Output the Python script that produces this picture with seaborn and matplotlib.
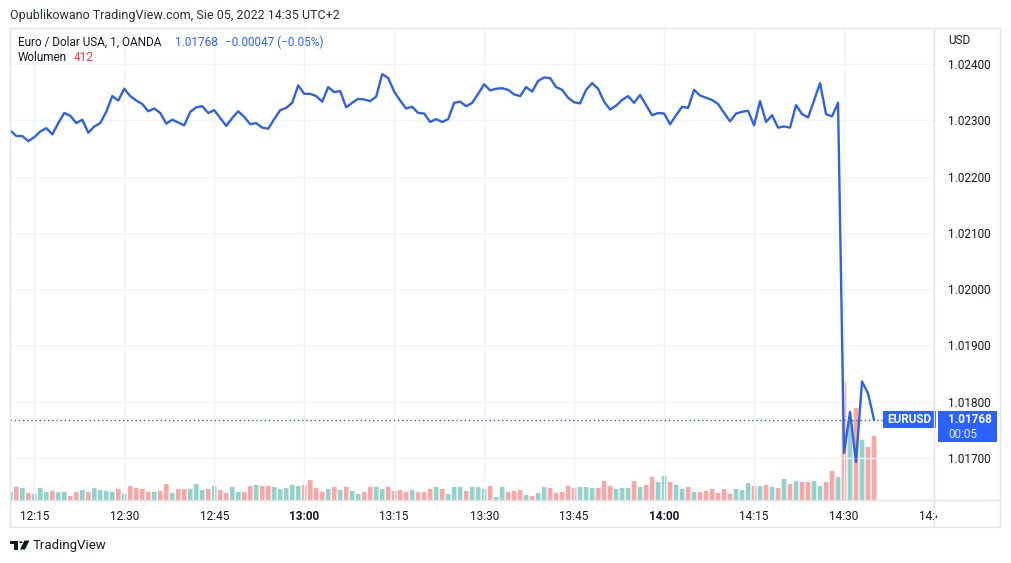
import matplotlib
matplotlib.use("Agg")
import matplotlib.pyplot as plt
import matplotlib.transforms as mtrans
from matplotlib.patches import Rectangle, Polygon, Circle
from matplotlib.lines import Line2D
import seaborn as sns
import pandas as pd

# ---------------- data ----------------
# one value per minute, starting 12:11 and ending 14:35
price = [
    1.02282, 1.02272, 1.02272, 1.02263, 1.02270, 1.02280, 1.02286, 1.02275, 1.02295, 1.02313,
    1.02308, 1.02295, 1.02301, 1.02278, 1.02289, 1.02295, 1.02315, 1.02343, 1.02335, 1.02356,
    1.02343, 1.02335, 1.02329, 1.02316, 1.02321, 1.02313, 1.02294, 1.02301, 1.02296, 1.02291,
    1.02315, 1.02323, 1.02325, 1.02313, 1.02318, 1.02304, 1.02290, 1.02304, 1.02316, 1.02306,
    1.02293, 1.02295, 1.02287, 1.02285, 1.02302, 1.02318, 1.02322, 1.02331, 1.02362, 1.02347,
    1.02347, 1.02343, 1.02333, 1.02359, 1.02350, 1.02352, 1.02323, 1.02331, 1.02338, 1.02337,
    1.02334, 1.02342, 1.02382, 1.02375, 1.02351, 1.02335, 1.02321, 1.02324, 1.02313, 1.02312,
    1.02297, 1.02302, 1.02297, 1.02302, 1.02331, 1.02333, 1.02325, 1.02331, 1.02347, 1.02364,
    1.02353, 1.02356, 1.02357, 1.02354, 1.02346, 1.02343, 1.02359, 1.02351, 1.02370, 1.02376,
    1.02375, 1.02359, 1.02354, 1.02340, 1.02332, 1.02330, 1.02354, 1.02366, 1.02356, 1.02333,
    1.02319, 1.02326, 1.02336, 1.02343, 1.02331, 1.02345, 1.02327, 1.02309, 1.02313, 1.02312,
    1.02293, 1.02309, 1.02324, 1.02322, 1.02354, 1.02344, 1.02340, 1.02336, 1.02329, 1.02313,
    1.02298, 1.02312, 1.02315, 1.02317, 1.02291, 1.02334, 1.02297, 1.02309, 1.02287, 1.02289,
    1.02287, 1.02327, 1.02311, 1.02305, 1.02335, 1.02366, 1.02311, 1.02307, 1.02331, 1.01709,
    1.01782, 1.01693, 1.01836, 1.01815, 1.01768,
]
volume = [
    52, 84, 77, 45, 39, 77, 52, 58, 50, 53,
    26, 52, 64, 51, 77, 64, 58, 52, 71, 39,
    90, 77, 71, 52, 53, 58, 103, 45, 71, 70,
    71, 103, 64, 71, 90, 64, 45, 84, 52, 51,
    90, 97, 90, 91, 84, 71, 77, 97, 90, 97,
    129, 77, 52, 71, 84, 64, 84, 58, 39, 52,
    84, 85, 71, 84, 58, 64, 52, 64, 51, 52,
    71, 84, 71, 39, 84, 85, 58, 84, 83, 71,
    90, 19, 84, 52, 58, 64, 32, 26, 45, 84,
    77, 45, 52, 90, 77, 84, 84, 77, 78, 122,
    90, 71, 77, 77, 122, 84, 97, 148, 116, 155,
    116, 97, 71, 84, 52, 52, 58, 71, 45, 71,
    39, 71, 64, 109, 90, 90, 97, 84, 77, 135,
    103, 122, 116, 116, 122, 90, 116, 187, 148, 760,
    515, 592, 386, 341, 412,
]
direction = list(
    "ududuuuduu" "dduduuuudu" "dddduddudd" "uuududduud" "dudduuuuud"
    "dddududuud" "duuddddudd" "duduuuduuu" "duuddduduu" "ddddduuudd"
    "duuududduu" "duududdddd" "duuudududu" "dudduuddud" "ududd"
)
minute = list(range(len(price)))          # minutes after 12:11
tick_minutes = [4, 19, 34, 49, 64, 79, 94, 109, 124, 139, 154]
tick_labels = ["12:15", "12:30", "12:45", "13:00", "13:15", "13:30",
               "13:45", "14:00", "14:15", "14:30", "14:45"]
bold_labels = ["13:00", "14:00"]
price_ticks = [1.017, 1.018, 1.019, 1.020, 1.021, 1.022, 1.023, 1.024]
last_price = 1.01768
change_text = "\u22120.00047 (\u22120.05%)"
last_volume = 412

df = pd.DataFrame({"minute": minute, "price": price,
                   "volume": volume, "dir": direction})

# ---------------- style ----------------
sns.set_theme(style="white")
plt.rcParams["font.family"] = ["Roboto", "DejaVu Sans"]

W, H = 1012, 563
fig = plt.figure(figsize=(W / 100, H / 100), dpi=100)
fig.patch.set_facecolor("white")

LINE = "#2f62df"
UP = "#93d1ca"
DOWN = "#f5a8a6"
GRID = "#f0f3fa"
FRAME = "#e0e3eb"
TXT = "#131722"
BLUE = "#2962ff"


def fx(x):
    return x / W


def fy(y):
    return 1 - y / H


ax_left, ax_right, ax_top, ax_bot = 10, 934, 28, 500
axv = fig.add_axes([fx(ax_left), fy(ax_bot), (ax_right - ax_left) / W,
                    (ax_bot - ax_top) / H])
ax = axv.twinx()

# volume bars
sns.barplot(data=df, x="minute", y="volume", hue="dir",
            palette={"u": UP, "d": DOWN}, native_scale=True, dodge=False,
            width=0.78, errorbar=None, legend=False, saturation=1,
            linewidth=0, ax=axv)
for p in axv.patches:
    p.set_snap(False)
    p.set_antialiased(True)
vmax = last_volume / 64 * (ax_bot - ax_top)
axv.set_ylim(0, vmax)
axv.set_yticks([])
axv.set_ylabel("")
axv.set_xlabel("")

# price line
sns.lineplot(data=df, x="minute", y="price", color=LINE, linewidth=1.7, ax=ax)
p_lo = 1.017 - (500 - 458) / 56.3 * 0.001
p_hi = 1.024 + (64 - 28) / 56.3 * 0.001
ax.set_ylim(p_lo, p_hi)
ax.set_xlim(-0.05, 154)
ax.set_xlabel("")
ax.set_ylabel("")

# grid
for pt in price_ticks:
    ax.axhline(pt, color=GRID, lw=1, zorder=0)
for tm in tick_minutes:
    ax.axvline(tm, color=GRID, lw=1, zorder=0)

# last price dotted line
ax.axhline(last_price, xmin=0, xmax=(883 - 10) / (ax_right - ax_left),
           color="#4a5d8f", lw=1, ls=(0, (1, 2)), zorder=3)

for a in (ax, axv):
    for s in a.spines.values():
        s.set_visible(False)

# y ticks (right)
ax.set_yticks(price_ticks)
ax.set_yticklabels([f"{v:.5f}" for v in price_ticks])
ax.yaxis.tick_right()
ax.tick_params(axis="y", length=0, pad=10, labelsize=8.5, labelcolor=TXT)

# x ticks (on the volume axes, which share x)
axv.set_xticks(tick_minutes)
axv.set_xticklabels(tick_labels)
axv.set_xlim(-0.05, 154)
axv.tick_params(axis="x", length=0, pad=7, labelsize=8.5, labelcolor=TXT,
                labelbottom=True)
clip = mtrans.TransformedBbox(
    mtrans.Bbox([[0, 0], [fx(937), 1]]), fig.transFigure)
for lab in axv.get_xticklabels():
    if lab.get_text() in bold_labels:
        lab.set_fontweight("bold")
    lab.set_clip_box(clip)
    lab.set_clip_on(True)

# frame & separators
fig.add_artist(Rectangle((fx(10), fy(527)), (1000 - 10) / W, (527 - 28) / H,
                         transform=fig.transFigure, fill=False,
                         edgecolor=FRAME, lw=1))
fig.add_artist(Line2D([fx(934), fx(934)], [fy(28), fy(527)],
                      transform=fig.transFigure, color=FRAME, lw=1))
fig.add_artist(Line2D([fx(10), fx(1000)], [fy(500), fy(500)],
                      transform=fig.transFigure, color=FRAME, lw=1))

# header texts
fig.text(fx(10), fy(15), "Opublikowano TradingView.com, Sie 05, 2022 14:35 UTC+2",
         fontsize=9, color="#2a2e39", va="center", ha="left")
fig.text(fx(18), fy(42), "Euro / Dolar USA, 1, OANDA", fontsize=8.5,
         color=TXT, va="center", ha="left")
fig.text(fx(175), fy(42), f"{last_price:.5f}", fontsize=8.5, color=BLUE,
         va="center", ha="left")
fig.text(fx(225), fy(42), change_text, fontsize=8.5, color=BLUE,
         va="center", ha="left")
fig.text(fx(18), fy(58), "Wolumen", fontsize=8.5, color=TXT,
         va="center", ha="left")
fig.text(fx(74), fy(58), str(last_volume), fontsize=8.5, color="#f23645",
         va="center", ha="left")
fig.text(fx(948), fy(41), "USD", fontsize=8.5, color=TXT,
         va="center", ha="left")

# price labels on the right
fig.add_artist(Rectangle((fx(883), fy(428)), (936 - 883) / W, (428 - 411) / H,
                         transform=fig.transFigure, color=BLUE, lw=0))
fig.text(fx(909.5), fy(419.5), "EURUSD", fontsize=8.5, color="white",
         fontweight="bold", va="center", ha="center")
fig.add_artist(Rectangle((fx(938), fy(442)), (997 - 938) / W, (442 - 411) / H,
                         transform=fig.transFigure, color=BLUE, lw=0))
fig.text(fx(948), fy(419.5), f"{last_price:.5f}", fontsize=8.5, color="white",
         fontweight="bold", va="center", ha="left")
fig.text(fx(948), fy(434), "00:05", fontsize=8.5, color="#e8eeff",
         va="center", ha="left")

# TradingView logo + name
logo = "#131722"
fig.add_artist(Polygon([(fx(10), fy(540.5)), (fx(18), fy(540.5)),
                        (fx(18), fy(543.5)), (fx(10), fy(543.5))],
                       transform=fig.transFigure, color=logo, lw=0))
fig.add_artist(Polygon([(fx(14), fy(540.5)), (fx(18), fy(540.5)),
                        (fx(18), fy(549.5)), (fx(14), fy(549.5))],
                       transform=fig.transFigure, color=logo, lw=0))
fig.add_artist(Circle((fx(21), fy(542.2)), 1.7 / W, transform=fig.transFigure,
                      color=logo, lw=0))
fig.add_artist(Polygon([(fx(24.5), fy(540.5)), (fx(29.5), fy(540.5)),
                        (fx(25), fy(549.5)), (fx(20), fy(549.5))],
                       transform=fig.transFigure, color=logo, lw=0))
fig.text(fx(33), fy(545), "TradingView", fontsize=9.5, color=TXT,
         va="center", ha="left")

fig.savefig("out.png", dpi=100, facecolor="white")
